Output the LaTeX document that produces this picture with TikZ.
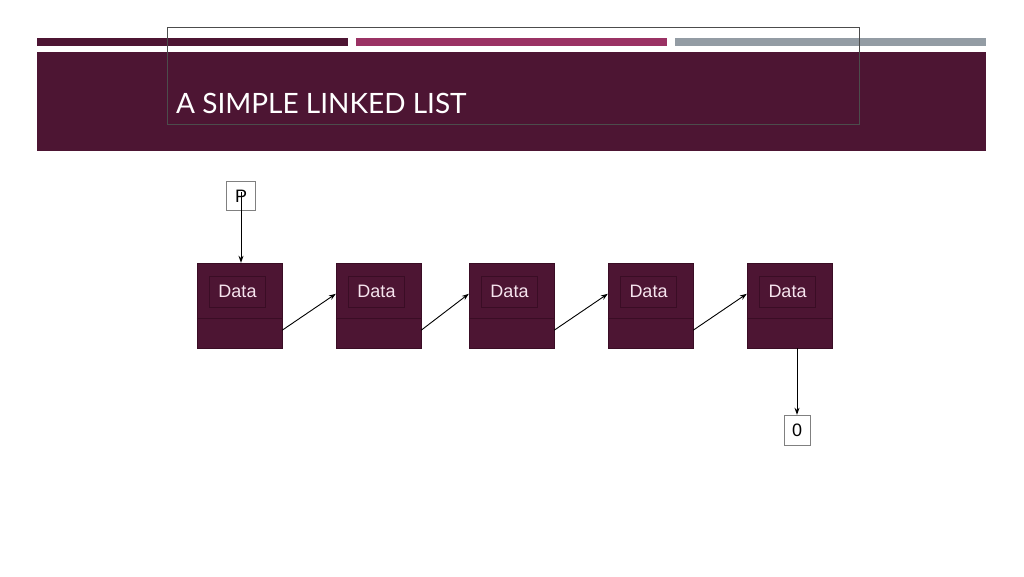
\documentclass[tikz,border=0pt]{standalone}
\usepackage{fontspec}
\setmainfont{Liberation Sans}
\newfontfamily\titlefont{Lato}
\usetikzlibrary{positioning,arrows.meta}

\definecolor{wine}{HTML}{4D1533}
\definecolor{winedark}{HTML}{3A0D25}
\definecolor{rose}{HTML}{9A3264}
\definecolor{slate}{HTML}{939CA4}
\definecolor{blush}{HTML}{F6E4EE}

\tikzstyle{listnode}=[draw=winedark,fill=wine,minimum width=85pt,minimum height=85pt,inner sep=0pt]
\tikzstyle{databox}=[draw=winedark,thick,minimum width=56pt,minimum height=31pt,inner sep=0pt,text=blush,font=\fontsize{18}{20}\selectfont]
\tikzstyle{ptrbox}=[draw=gray,fill=white,inner sep=0pt,font=\fontsize{18}{20}\selectfont]
\tikzstyle{link}=[draw,line width=0.9pt,-{Stealth[length=7pt,width=5pt]}]

\begin{document}
\begin{tikzpicture}[x=1pt,y=-1pt]
    \useasboundingbox (0,0) rectangle (1024,576);
    % Header bars and title band
    \fill[wine] (37,38) rectangle (348,46);
    \fill[rose] (356,38) rectangle (667,46);
    \fill[slate] (675,38) rectangle (986,46);
    \fill[wine] (37,52) rectangle (986,151);
    \draw[black!70] (167,124) -- (167,27) -- (859,27) -- (859,124) -- cycle;
    \node[anchor=base west,text=white,inner sep=0pt,font=\titlefont\fontsize{28}{30}\selectfont] (title) at (176,113) {A SIMPLE LINKED LIST};
    % First we draw the list nodes
    \foreach \pos/\name in {{(239.5,305.5)/n1}, {(378.5,305.5)/n2}, {(511.5,305.5)/n3}, {(650.5,305.5)/n4}, {(789.5,305.5)/n5}} {
        \node[listnode] (\name) at \pos {};
        \node[databox,below=13pt of \name.north,xshift=-2pt] (\name d) {Data};
        \draw[winedark] ([yshift=30pt]\name.south west) -- ([yshift=30pt]\name.south east);
    }
    % Pointers
    \node[ptrbox,minimum width=29pt,minimum height=29pt] (p) at (241,196) {P};
    \node[ptrbox,minimum width=26pt,minimum height=30pt] (null) at (797,430) {0};
    \path[link] ([yshift=4pt]p.center) -- (p.center |- n1.north);
    \path[link] (null.north |- n5.south) -- (null.north);
    % Connect the nodes
    \foreach \source/\dest in {n1/n2, n2/n3, n3/n4, n4/n5}
        \path[link] ([yshift=18pt]\source.south east) -- ([yshift=-31pt]\dest.north west);
\end{tikzpicture}
\end{document}
